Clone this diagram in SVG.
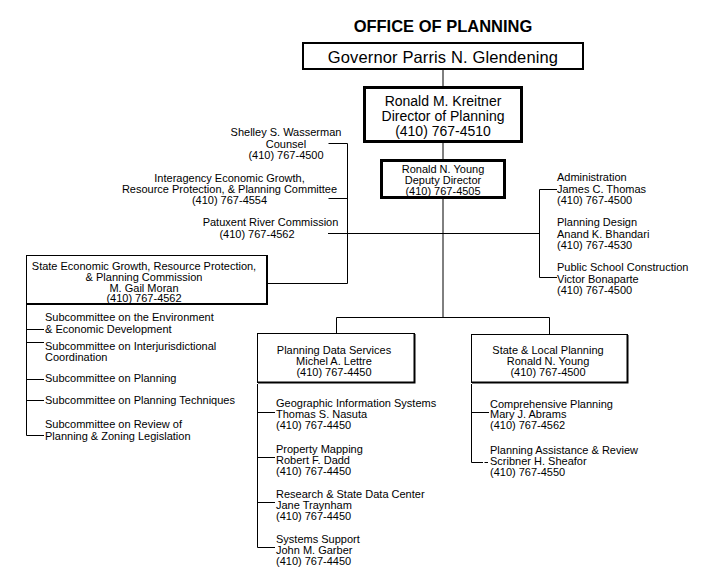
<svg xmlns="http://www.w3.org/2000/svg" width="715" height="585" viewBox="0 0 715 585">
<style>
text{font-family:"Liberation Sans",Arial,sans-serif;fill:#000}
.s{font-size:11px}
.m{text-anchor:middle}
.box{fill:#fff;stroke:#000}
.ln{stroke:#000;stroke-width:1;fill:none}
.sh{stroke:#000;fill:none}
</style>
<rect x="0" y="0" width="715" height="585" fill="#fff"/>
<text x="443" y="32" class="m" style="font-size:16.5px;font-weight:bold">OFFICE OF PLANNING</text>

<g id="connectors">
<line class="ln" x1="443" y1="70" x2="443" y2="86"/>
<line class="ln" x1="443" y1="143" x2="443" y2="159"/>
<line class="ln" x1="443" y1="199" x2="443" y2="317.5"/>
<polyline class="ln" points="328.5,143.5 347.5,143.5 347.5,283.5 268,283.5"/>
<line class="ln" x1="328.5" y1="198.5" x2="347.5" y2="198.5"/>
<line class="ln" x1="328" y1="233.5" x2="539.5" y2="233.5"/>
<polyline class="ln" points="557,189.5 539.5,189.5 539.5,277.5 557,277.5"/>
<polyline class="ln" points="336.5,333 336.5,317.5 549.5,317.5 549.5,334"/>
<polyline class="ln" points="26.5,305 26.5,435.5 44,435.5"/>
<line class="ln" x1="26.5" y1="329.5" x2="44" y2="329.5"/>
<line class="ln" x1="26.5" y1="342.5" x2="44" y2="342.5"/>
<line class="ln" x1="26.5" y1="379.5" x2="44" y2="379.5"/>
<line class="ln" x1="26.5" y1="400.5" x2="44" y2="400.5"/>
<polyline class="ln" points="257.5,384 257.5,547.5 275,547.5"/>
<line class="ln" x1="257.5" y1="412.5" x2="275" y2="412.5"/>
<line class="ln" x1="257.5" y1="457.5" x2="275" y2="457.5"/>
<line class="ln" x1="257.5" y1="502.5" x2="275" y2="502.5"/>
<polyline class="ln" points="471.5,384 471.5,462.5 483,462.5"/>
<line class="ln" x1="484.5" y1="462.5" x2="488" y2="462.5"/>
<line class="ln" x1="471.5" y1="412.5" x2="489" y2="412.5"/>
</g>

<g id="governor">
<rect class="box" x="303" y="43" width="280" height="26" stroke-width="2"/>
<text x="443" y="63" class="m" style="font-size:16.5px;letter-spacing:0.13px">Governor Parris N. Glendening</text>
</g>

<g id="director">
<rect class="box" x="364.5" y="87.5" width="157" height="54" stroke-width="3"/>
<text x="443" y="105.5" class="m" style="font-size:14px">Ronald M. Kreitner</text>
<text x="443" y="120.5" class="m" style="font-size:14px">Director of Planning</text>
<text x="443" y="135.5" class="m" style="font-size:14px">(410) 767-4510</text>
</g>

<g id="deputy">
<rect class="box" x="381.5" y="160.5" width="123" height="37" stroke-width="3"/>
<text x="443" y="173" class="s m">Ronald N. Young</text>
<text x="443" y="184" class="s m">Deputy Director</text>
<text x="443" y="194.5" class="s m">(410) 767-4505</text>
</g>

<g id="counsel">
<text x="286" y="136" class="s m">Shelley S. Wasserman</text>
<text x="286" y="148" class="s m">Counsel</text>
<text x="286" y="159" class="s m">(410) 767-4500</text>
</g>

<g id="interagency">
<text x="229.5" y="182" class="s m">Interagency Economic Growth,</text>
<text x="229.5" y="193" class="s m">Resource Protection, &amp; Planning Committee</text>
<text x="229.5" y="204" class="s m">(410) 767-4554</text>
</g>

<g id="patuxent">
<text x="270.5" y="226" class="s m">Patuxent River Commission</text>
<text x="257" y="238" class="s m">(410) 767-4562</text>
</g>

<g id="state-commission">
<rect class="box" x="26.5" y="255.5" width="241" height="49" stroke-width="1"/>
<polyline class="sh" points="267,256 267,304 27,304" stroke-width="2"/>
<text x="144" y="269.5" class="s m">State Economic Growth, Resource Protection,</text>
<text x="144" y="280.5" class="s m">&amp; Planning Commission</text>
<text x="144" y="291.5" class="s m">M. Gail Moran</text>
<text x="144" y="302" class="s m">(410) 767-4562</text>
</g>

<g id="sub-environment">
<text x="45" y="321" class="s">Subcommittee on the Environment</text>
<text x="45" y="333" class="s">&amp; Economic Development</text>
</g>
<g id="sub-interjurisdictional">
<text x="45" y="349.5" class="s">Subcommittee on Interjurisdictional</text>
<text x="45" y="361" class="s">Coordination</text>
</g>
<g id="sub-planning">
<text x="45" y="381.5" class="s">Subcommittee on Planning</text>
</g>
<g id="sub-techniques">
<text x="45" y="404" class="s">Subcommittee on Planning Techniques</text>
</g>
<g id="sub-review">
<text x="45" y="428" class="s">Subcommittee on Review of</text>
<text x="45" y="440" class="s">Planning &amp; Zoning Legislation</text>
</g>

<g id="administration">
<text x="557" y="181" class="s">Administration</text>
<text x="557" y="192.5" class="s">James C. Thomas</text>
<text x="557" y="204" class="s">(410) 767-4500</text>
</g>
<g id="planning-design">
<text x="557" y="226" class="s">Planning Design</text>
<text x="557" y="237.5" class="s">Anand K. Bhandari</text>
<text x="557" y="249" class="s">(410) 767-4530</text>
</g>
<g id="public-school">
<text x="557" y="271" class="s">Public School Construction</text>
<text x="557" y="282.5" class="s">Victor Bonaparte</text>
<text x="557" y="294" class="s">(410) 767-4500</text>
</g>

<g id="planning-data-services">
<rect class="box" x="257.5" y="333.5" width="157" height="49" stroke-width="1"/>
<polyline class="sh" points="414.5,334 414.5,382.5 258,382.5" stroke-width="2"/>
<text x="334" y="353.5" class="s m">Planning Data Services</text>
<text x="334" y="364.5" class="s m">Michel A. Lettre</text>
<text x="334" y="375.5" class="s m">(410) 767-4450</text>
</g>

<g id="state-local-planning">
<rect class="box" x="471.5" y="334.5" width="156" height="48" stroke-width="1"/>
<polyline class="sh" points="627.5,335 627.5,382.5 472,382.5" stroke-width="2"/>
<text x="548" y="353.5" class="s m">State &amp; Local Planning</text>
<text x="548" y="364.5" class="s m">Ronald N. Young</text>
<text x="548" y="375.5" class="s m">(410) 767-4500</text>
</g>

<g id="gis">
<text x="276" y="407" class="s">Geographic Information Systems</text>
<text x="276" y="418" class="s">Thomas S. Nasuta</text>
<text x="276" y="429" class="s">(410) 767-4450</text>
</g>
<g id="property-mapping">
<text x="276" y="453" class="s">Property Mapping</text>
<text x="276" y="464" class="s">Robert F. Dadd</text>
<text x="276" y="475" class="s">(410) 767-4450</text>
</g>
<g id="research">
<text x="276" y="498" class="s">Research &amp; State Data Center</text>
<text x="276" y="509" class="s">Jane Traynham</text>
<text x="276" y="520" class="s">(410) 767-4450</text>
</g>
<g id="systems-support">
<text x="276" y="543" class="s">Systems Support</text>
<text x="276" y="554" class="s">John M. Garber</text>
<text x="276" y="565" class="s">(410) 767-4450</text>
</g>

<g id="comprehensive-planning">
<text x="490" y="407.5" class="s">Comprehensive Planning</text>
<text x="490" y="418" class="s">Mary J. Abrams</text>
<text x="490" y="428.5" class="s">(410) 767-4562</text>
</g>
<g id="planning-assistance">
<text x="490" y="454" class="s">Planning Assistance &amp; Review</text>
<text x="490" y="465" class="s">Scribner H. Sheafor</text>
<text x="490" y="476" class="s">(410) 767-4550</text>
</g>
</svg>
